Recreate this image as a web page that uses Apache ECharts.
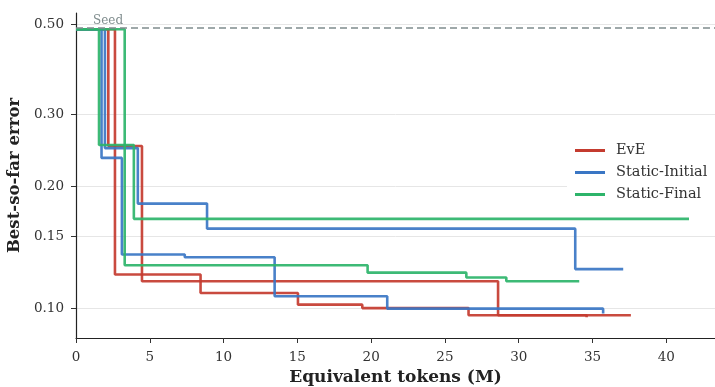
<!DOCTYPE html>
<html>
<head>
<meta charset="utf-8">
<script src="https://cdn.jsdelivr.net/npm/echarts@6/dist/echarts.min.js"></script>
<style>html,body{margin:0;padding:0;background:#fff}#c{width:715px;height:387px}</style>
</head>
<body>
<div id="c"></div>
<script>
// ---- data ----
const seriesNames = ['EvE', 'Static-Initial', 'Static-Final'];
const seedValue = 0.487;
const yTickValues = [0.10, 0.15, 0.20, 0.30, 0.50];
const xTickValues = [0, 5, 10, 15, 20, 25, 30, 35, 40];

const eveRunA_x = [0, 2.19, 4.47, 28.6, 34.6];
const eveRunA_y = [0.487, 0.251, 0.1165, 0.096, 0.095];
const eveRunB_x = [0, 2.64, 8.44, 15.04, 19.4, 26.6, 37.6];
const eveRunB_y = [0.487, 0.121, 0.109, 0.102, 0.100, 0.096, 0.096];

const initRunA_x = [0, 1.73, 3.11, 7.37, 13.46, 21.09, 35.72];
const initRunA_y = [0.487, 0.2346, 0.1356, 0.1335, 0.107, 0.0997, 0.097];
const initRunB_x = [0, 1.96, 4.19, 8.88, 33.83, 37.08];
const initRunB_y = [0.487, 0.248, 0.181, 0.157, 0.1248, 0.1248];

const finalRunA_x = [0, 1.56, 3.92, 41.54];
const finalRunA_y = [0.487, 0.2524, 0.166, 0.166];
const finalRunB_x = [0, 3.3, 19.76, 26.45, 29.16, 34.1];
const finalRunB_y = [0.487, 0.1275, 0.1223, 0.119, 0.1165, 0.1165];

const colors = { 'EvE': '#c43b2f', 'Static-Initial': '#3a76c4', 'Static-Final': '#2db46a' };

function zip(xs, ys) { return xs.map((x, i) => [x, ys[i]]); }

const runs = [
  { name: 'EvE', data: zip(eveRunA_x, eveRunA_y) },
  { name: 'EvE', data: zip(eveRunB_x, eveRunB_y) },
  { name: 'Static-Initial', data: zip(initRunA_x, initRunA_y) },
  { name: 'Static-Initial', data: zip(initRunB_x, initRunB_y) },
  { name: 'Static-Final', data: zip(finalRunA_x, finalRunA_y) },
  { name: 'Static-Final', data: zip(finalRunB_x, finalRunB_y) }
];

const FONT = 'DejaVu Serif';

const series = runs.map((r, i) => ({
  type: 'line',
  name: r.name,
  step: 'end',
  data: r.data,
  showSymbol: false,
  symbol: 'none',
  lineStyle: { color: colors[r.name], width: 2.6, opacity: 0.92 },
  itemStyle: { color: colors[r.name] },
  z: 3,
  animation: false
}));

series.unshift({
  type: 'line',
  name: 'Seed',
  data: [],
  silent: true,
  markLine: {
    silent: true,
    symbol: 'none',
    animation: false,
    lineStyle: { color: '#7f8c8d', type: [7, 4], width: 1.5 },
    label: {
      show: true,
      position: 'insideStartTop',
      formatter: 'Seed',
      color: '#7f8c8d',
      fontFamily: FONT,
      fontSize: 12,
      distance: [17, 1]
    },
    data: [{ yAxis: seedValue }]
  },
  z: 2
});

const chart = echarts.init(document.getElementById('c'), null, { renderer: 'canvas' });
chart.setOption({
  animation: false,
  backgroundColor: '#ffffff',
  color: [colors['EvE'], colors['Static-Initial'], colors['Static-Final']],
  grid: { left: 76, right: 0, top: 13, bottom: 49, containLabel: false, outerBoundsMode: 'none' },
  legend: {
    data: seriesNames,
    orient: 'vertical',
    left: 567,
    top: 137,
    padding: [6, 8],
    backgroundColor: '#ffffff',
    icon: 'rect',
    itemWidth: 30,
    itemHeight: 3,
    itemGap: 7,
    textStyle: { fontFamily: FONT, fontSize: 14.5, color: '#333', padding: [0, 0, 0, 6], lineHeight: 14 }
  },
  xAxis: {
    type: 'value',
    min: 0,
    max: 43.3,
    interval: 5,
    name: 'Equivalent tokens (M)',
    nameLocation: 'middle',
    nameGap: 30,
    nameTextStyle: { fontFamily: FONT, fontSize: 17, fontWeight: 'bold', color: '#222' },
    axisLine: { show: true, onZero: false, lineStyle: { color: '#222', width: 1.2 } },
    axisTick: { show: true, length: 5, lineStyle: { color: '#333' }, customValues: xTickValues },
    axisLabel: { fontFamily: FONT, fontSize: 13.5, color: '#333', margin: 12, customValues: xTickValues },
    splitLine: { show: false }
  },
  yAxis: {
    type: 'log',
    logBase: 10,
    min: 0.0844,
    max: 0.534,
    name: 'Best-so-far error',
    nameLocation: 'middle',
    nameGap: 47,
    nameTextStyle: { fontFamily: FONT, fontSize: 16.5, fontWeight: 'bold', color: '#222' },
    axisLine: { show: true, lineStyle: { color: '#222', width: 1.2 } },
    axisTick: { show: true, length: 5, lineStyle: { color: '#333' }, customValues: yTickValues },
    axisLabel: {
      fontFamily: FONT, fontSize: 13.5, color: '#333', margin: 12,
      customValues: yTickValues,
      formatter: v => Number(v).toFixed(2)
    },
    splitLine: { show: true, lineStyle: { color: '#e6e6e6', width: 1 } }
  },
  series: series
});
</script>
</body>
</html>
